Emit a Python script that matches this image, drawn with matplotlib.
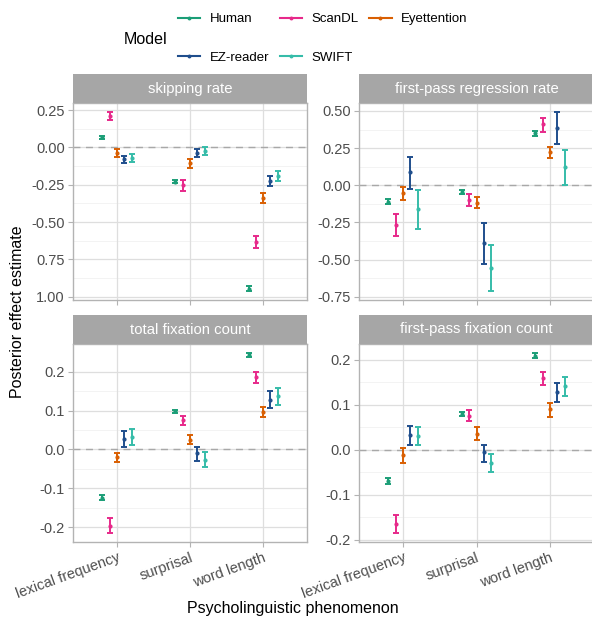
import numpy as np
import matplotlib
matplotlib.use("Agg")
import matplotlib.pyplot as plt
from matplotlib.lines import Line2D

plt.rcParams['font.family'] = ['Liberation Sans', 'DejaVu Sans']

# data: rows = models, columns = phenomena
models = ['Human', 'ScanDL', 'Eyettention', 'EZ-reader', 'SWIFT']
colors = ['#1B9E77', '#E7298A', '#D95F02', '#1F4E8C', '#36BCA9']
phenomena = ['lexical frequency', 'surprisal', 'word length']
measures = ['skipping rate', 'first-pass regression rate',
            'total fixation count', 'first-pass fixation count']

skip_est = [[0.067, -0.228, -0.946], [0.21, -0.254, -0.634], [-0.036, -0.103, -0.337],
            [-0.08, -0.04, -0.225], [-0.07, -0.025, -0.192]]
skip_lo = [[0.057, -0.238, -0.962], [0.183, -0.29, -0.674], [-0.061, -0.136, -0.369],
           [-0.107, -0.067, -0.255], [-0.097, -0.052, -0.226]]
skip_hi = [[0.077, -0.218, -0.93], [0.238, -0.219, -0.594], [-0.012, -0.076, -0.304],
           [-0.054, -0.013, -0.193], [-0.042, 0.004, -0.159]]

regr_est = [[-0.111, -0.042, 0.349], [-0.265, -0.096, 0.409], [-0.051, -0.118, 0.225],
            [0.087, -0.385, 0.387], [-0.162, -0.556, 0.12]]
regr_lo = [[-0.129, -0.056, 0.334], [-0.34, -0.14, 0.36], [-0.096, -0.153, 0.185],
           [-0.024, -0.529, 0.28], [-0.296, -0.711, 0.002]]
regr_hi = [[-0.091, -0.029, 0.365], [-0.196, -0.056, 0.454], [-0.011, -0.08, 0.26],
           [0.189, -0.256, 0.493], [-0.033, -0.4, 0.238]]

tfc_est = [[-0.124, 0.098, 0.242], [-0.196, 0.075, 0.185], [-0.02, 0.024, 0.096],
           [0.028, -0.01, 0.128], [0.033, -0.026, 0.137]]
tfc_lo = [[-0.130, 0.093, 0.237], [-0.215, 0.064, 0.172], [-0.033, 0.013, 0.084],
          [0.007, -0.03, 0.107], [0.011, -0.046, 0.115]]
tfc_hi = [[-0.118, 0.102, 0.248], [-0.177, 0.087, 0.198], [-0.009, 0.037, 0.11],
          [0.048, 0.007, 0.149], [0.053, -0.007, 0.158]]

fpfc_est = [[-0.069, 0.079, 0.209], [-0.164, 0.076, 0.159], [-0.011, 0.036, 0.09],
            [0.033, -0.005, 0.128], [0.031, -0.03, 0.141]]
fpfc_lo = [[-0.076, 0.074, 0.203], [-0.185, 0.063, 0.144], [-0.029, 0.022, 0.073],
           [0.011, -0.027, 0.106], [0.01, -0.05, 0.119]]
fpfc_hi = [[-0.063, 0.084, 0.215], [-0.144, 0.089, 0.173], [0.003, 0.05, 0.103],
           [0.052, 0.01, 0.149], [0.051, -0.01, 0.162]]

skip_ticks = [0.25, 0.0, -0.25, -0.5, -0.75, -1.0]
skip_ticklabels = ['0.25', '0.00', '-0.25', '-0.50', '0.75', '1.00']
regr_ticks = [0.5, 0.25, 0.0, -0.25, -0.5, -0.75]
regr_ticklabels = ['0.50', '0.25', '0.00', '-0.25', '-0.50', '-0.75']
count_ticks = [0.2, 0.1, 0.0, -0.1, -0.2]
count_ticklabels = ['0.2', '0.1', '0.0', '-0.1', '-0.2']

W, H = 592, 621
fig = plt.figure(figsize=(W / 100, H / 100), dpi=100)


def box(x0, x1, ytop, ybot):
    return [x0 / W, 1 - ybot / H, (x1 - x0) / W, (ybot - ytop) / H]


panels = [
    (measures[0], skip_est, skip_lo, skip_hi, skip_ticks, skip_ticklabels, (73, 307, 74, 300), False),
    (measures[1], regr_est, regr_lo, regr_hi, regr_ticks, regr_ticklabels, (359, 594, 74, 300), False),
    (measures[2], tfc_est, tfc_lo, tfc_hi, count_ticks, count_ticklabels, (73, 307, 315, 542), True),
    (measures[3], fpfc_est, fpfc_lo, fpfc_hi, count_ticks, count_ticklabels, (359, 594, 315, 542), True),
]

strip_h = 29
for title, est, lo, hi, ticks, ticklabels, (x0, x1, yt, yb), bottom in panels:
    ax = fig.add_axes(box(x0, x1, yt + strip_h, yb))
    est = np.array(est)
    lo = np.array(lo)
    hi = np.array(hi)
    xs = np.arange(len(phenomena)) + 1

    # gridlines ggplot theme_light style
    for t in range(len(ticks) - 1):
        ax.axhline((ticks[t] + ticks[t + 1]) / 2, color='#EEEEEE', lw=0.5, zorder=0)
    for t in ticks:
        ax.axhline(t, color='#DEDEDE', lw=0.9, zorder=0)
    for x in xs:
        ax.axvline(x, color='#DEDEDE', lw=0.9, zorder=0)
    ax.axhline(0, color='#A8A8A8', lw=1.0, ls=(0, (5, 4)), zorder=1)

    for j in range(len(models)):
        xj = xs + (j - 2) * 0.1
        ax.errorbar(xj, est[j], yerr=[est[j] - lo[j], hi[j] - est[j]], fmt='o',
                    color=colors[j], ms=2, lw=1.4, capsize=2.2, capthick=1.4, zorder=3)

    rng = hi.max() - lo.min()
    ax.set_ylim(lo.min() - 0.05 * rng, hi.max() + 0.05 * rng)
    ax.set_xlim(0.4, 3.6)
    ax.set_yticks(ticks)
    ax.set_yticklabels(ticklabels)
    ax.set_xticks(xs)
    if bottom:
        ax.set_xticklabels(phenomena, rotation=20, ha='right', rotation_mode='anchor')
    else:
        ax.set_xticklabels([])
    ax.tick_params(colors='#B3B3B3', labelcolor='#4D4D4D', labelsize=10.5, length=3.5, width=0.8, pad=2.5)
    for s in ax.spines.values():
        s.set_color('#B3B3B3')
        s.set_linewidth(1.0)

    sax = fig.add_axes(box(x0, x1, yt, yt + strip_h))
    sax.set_facecolor('#A6A6A6')
    sax.set_xticks([])
    sax.set_yticks([])
    for s in sax.spines.values():
        s.set_visible(False)
    sax.text(0.5, 0.5, title, color='white', fontsize=10.7, ha='center', va='center',
             transform=sax.transAxes)

# legend (ggplot fills by row, matplotlib by column -> reorder)
order = [0, 3, 1, 4, 2]
handles = [Line2D([], [], color=colors[i], lw=1.5, marker='o', ms=1.8) for i in order]
labels = [models[i] for i in order]
fig.legend(handles, labels, ncol=3, loc='upper left', bbox_to_anchor=(178 / W, 1 - 13 / H),
           frameon=False, fontsize=9.5, handlelength=1.7, handletextpad=0.7,
           columnspacing=0.8, labelspacing=2.0, borderpad=0, borderaxespad=0)
fig.text(124 / W, 1 - 40 / H, 'Model', fontsize=11.5, va='center', ha='left')

fig.text(18 / W, 1 - 312 / H, 'Posterior effect estimate', rotation=90, fontsize=11.5,
         ha='center', va='center')
fig.text(293 / W, 1 - 609 / H, 'Psycholinguistic phenomenon', fontsize=11.5,
         ha='center', va='center')

fig.savefig('out.png', dpi=100)
